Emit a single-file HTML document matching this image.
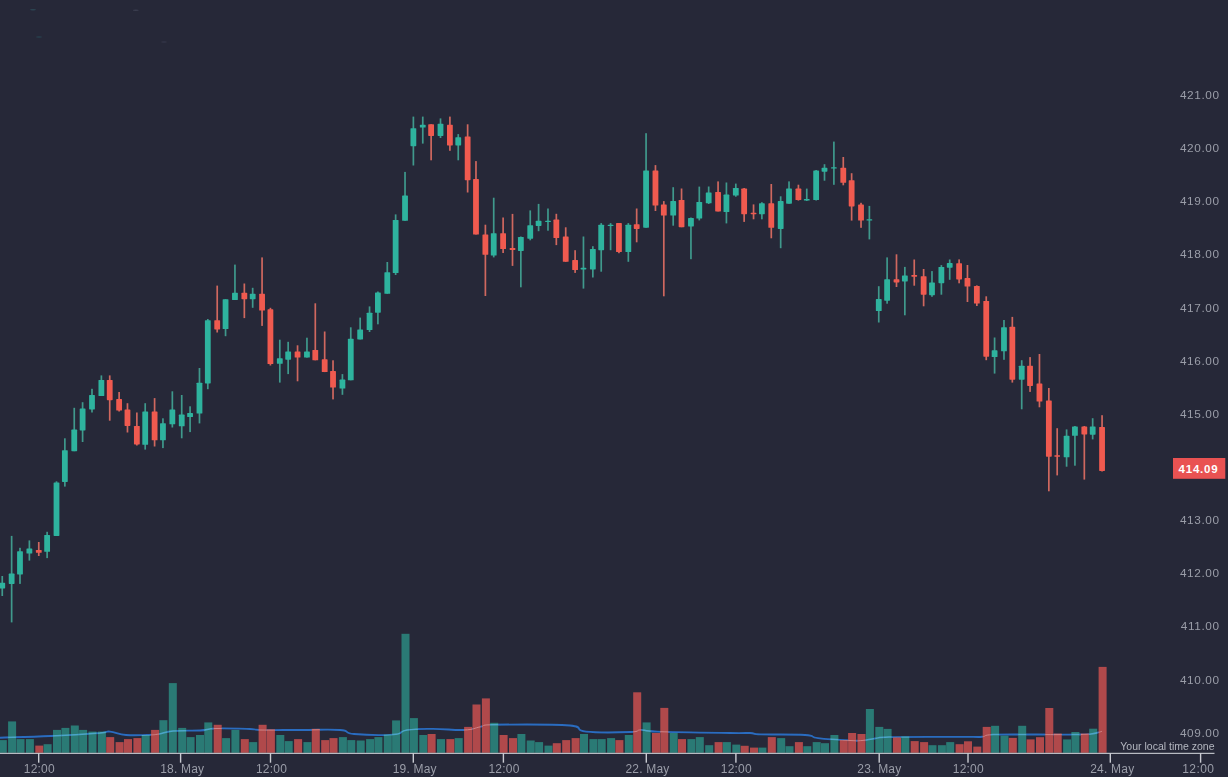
<!DOCTYPE html>
<html><head><meta charset="utf-8"><title>Chart</title>
<style>
html,body{margin:0;padding:0;background:#262838;}
body{width:1228px;height:777px;overflow:hidden;}
svg{display:block;}
text{font-family:"Liberation Sans",sans-serif;}
</style></head><body>
<svg width="1228" height="777" viewBox="0 0 1228 777">
<defs><filter id="b" x="-5%" y="-5%" width="110%" height="110%"><feGaussianBlur stdDeviation="0.45"/></filter></defs>
<rect width="1228" height="777" fill="#262838"/>
<g filter="url(#b)">
<path d="M0,737.7 C11.2,737.3 29.0,737.0 51,736 C73.0,735.0 87.0,734.0 100,733 C110.0,732.0 104.3,731.2 110,731.6 C115.7,732.0 117.9,734.3 126,735 C134.1,735.7 139.7,735.2 147,735 C154.3,734.8 153.3,734.9 159,734 C164.7,733.1 164.0,731.8 173,731 C182.0,730.2 190.5,731.0 200,730.5 C209.5,730.0 205.0,728.8 216,728.5 C227.0,728.2 240.3,728.7 250,729 C259.7,729.3 250.0,729.8 260,730 C271.2,730.2 283.4,730.0 301,730 C318.6,730.0 328.3,729.1 340,730 C351.7,730.9 342.3,733.0 354,734 C365.7,735.0 381.3,735.5 393,734.6 C404.7,733.7 398.2,731.3 407,730 C415.8,728.7 420.5,728.9 433,728.9 C445.5,728.9 453.7,730.4 464,730 C474.3,729.6 474.3,728.0 480,726.9 C485.7,725.8 480.0,725.1 490,724.8 C509.8,724.5 548.9,724.0 570,725.5 C586.0,727.0 572.6,730.2 586,731.6 C599.4,733.0 618.9,732.4 631,732 C641.0,731.6 635.3,730.0 641,729.9 C646.7,729.8 641.0,730.9 657,731.6 C676.6,732.3 709.5,732.7 730,733 C750.0,733.3 743.2,732.7 750,733 C756.8,733.3 750.0,734.0 761,734.4 C773.1,734.8 792.5,734.2 805,735 C817.5,735.8 808.1,736.9 818,738.1 C827.9,739.3 840.3,740.0 850,740.5 C859.7,741.0 856.5,740.9 862,740.5 C867.5,740.1 869.1,739.2 875,738.5 C880.9,737.8 875.0,737.5 889,737.1 C909.9,736.7 949.5,737.0 970,736.9 C982.0,736.8 976.9,737.3 982,736.8 C987.1,736.3 982.0,735.1 993,734.6 C1012.1,734.1 1047.4,734.8 1069,734.6 C1090.6,734.4 1083.7,734.6 1091,733.9 C1098.3,733.2 1099.6,731.9 1102,731.3" fill="none" stroke="#2a6cc0" stroke-width="1.9" stroke-linejoin="round"/>
<clipPath id="vbg">
<rect x="-1.2" y="740.1" width="8" height="12.7"/>
<rect x="8.1" y="721.4" width="8" height="31.4"/>
<rect x="16.5" y="739.1" width="8" height="13.7"/>
<rect x="25.9" y="739.1" width="8" height="13.7"/>
<rect x="43.6" y="744.2" width="8" height="8.6"/>
<rect x="53.0" y="729.9" width="8" height="22.9"/>
<rect x="61.4" y="727.9" width="8" height="24.9"/>
<rect x="70.8" y="725.5" width="8" height="27.3"/>
<rect x="79.1" y="729.9" width="8" height="22.9"/>
<rect x="88.5" y="731.6" width="8" height="21.2"/>
<rect x="97.9" y="731.6" width="8" height="21.2"/>
<rect x="141.7" y="735.0" width="8" height="17.8"/>
<rect x="159.4" y="720.2" width="8" height="32.6"/>
<rect x="168.8" y="683.1" width="8" height="69.7"/>
<rect x="178.2" y="727.9" width="8" height="24.9"/>
<rect x="186.6" y="737.1" width="8" height="15.7"/>
<rect x="196.0" y="735.0" width="8" height="17.8"/>
<rect x="204.3" y="722.4" width="8" height="30.4"/>
<rect x="222.1" y="738.1" width="8" height="14.7"/>
<rect x="231.4" y="729.9" width="8" height="22.9"/>
<rect x="249.2" y="742.1" width="8" height="10.7"/>
<rect x="276.3" y="735.0" width="8" height="17.8"/>
<rect x="284.7" y="741.1" width="8" height="11.7"/>
<rect x="303.4" y="742.1" width="8" height="10.7"/>
<rect x="338.9" y="737.1" width="8" height="15.7"/>
<rect x="347.3" y="740.1" width="8" height="12.7"/>
<rect x="356.7" y="740.5" width="8" height="12.3"/>
<rect x="366.1" y="739.1" width="8" height="13.7"/>
<rect x="374.4" y="737.1" width="8" height="15.7"/>
<rect x="383.8" y="734.6" width="8" height="18.2"/>
<rect x="392.1" y="720.4" width="8" height="32.4"/>
<rect x="401.5" y="633.8" width="8" height="119.0"/>
<rect x="409.9" y="718.1" width="8" height="34.7"/>
<rect x="419.3" y="735.0" width="8" height="17.8"/>
<rect x="437.0" y="739.1" width="8" height="13.7"/>
<rect x="454.7" y="738.1" width="8" height="14.7"/>
<rect x="490.2" y="722.8" width="8" height="30.0"/>
<rect x="517.4" y="734.0" width="8" height="18.8"/>
<rect x="526.7" y="740.5" width="8" height="12.3"/>
<rect x="535.1" y="742.1" width="8" height="10.7"/>
<rect x="544.5" y="745.6" width="8" height="7.2"/>
<rect x="580.0" y="734.0" width="8" height="18.8"/>
<rect x="589.4" y="739.1" width="8" height="13.7"/>
<rect x="597.7" y="739.1" width="8" height="13.7"/>
<rect x="607.1" y="738.1" width="8" height="14.7"/>
<rect x="624.8" y="735.0" width="8" height="17.8"/>
<rect x="642.6" y="722.4" width="8" height="30.4"/>
<rect x="669.7" y="733.0" width="8" height="19.8"/>
<rect x="687.4" y="739.1" width="8" height="13.7"/>
<rect x="695.8" y="737.1" width="8" height="15.7"/>
<rect x="705.2" y="745.2" width="8" height="7.6"/>
<rect x="722.9" y="742.1" width="8" height="10.7"/>
<rect x="732.3" y="744.6" width="8" height="8.2"/>
<rect x="758.4" y="747.6" width="8" height="5.2"/>
<rect x="777.2" y="738.1" width="8" height="14.7"/>
<rect x="785.5" y="746.2" width="8" height="6.6"/>
<rect x="803.3" y="746.2" width="8" height="6.6"/>
<rect x="812.7" y="742.1" width="8" height="10.7"/>
<rect x="821.0" y="743.2" width="8" height="9.6"/>
<rect x="830.4" y="735.0" width="8" height="17.8"/>
<rect x="865.9" y="709.0" width="8" height="43.8"/>
<rect x="875.3" y="726.9" width="8" height="25.9"/>
<rect x="883.6" y="728.9" width="8" height="23.9"/>
<rect x="901.3" y="736.5" width="8" height="16.3"/>
<rect x="928.5" y="745.2" width="8" height="7.6"/>
<rect x="937.9" y="745.2" width="8" height="7.6"/>
<rect x="946.2" y="742.1" width="8" height="10.7"/>
<rect x="991.1" y="725.8" width="8" height="27.0"/>
<rect x="1000.5" y="735.7" width="8" height="17.1"/>
<rect x="1018.2" y="725.8" width="8" height="27.0"/>
<rect x="1063.1" y="739.4" width="8" height="13.4"/>
<rect x="1071.4" y="732.0" width="8" height="20.8"/>
<rect x="1089.2" y="728.7" width="8" height="24.1"/>
</clipPath>
<clipPath id="vbr">
<rect x="35.3" y="745.6" width="8" height="7.2"/>
<rect x="106.2" y="737.1" width="8" height="15.7"/>
<rect x="115.6" y="742.1" width="8" height="10.7"/>
<rect x="124.0" y="739.1" width="8" height="13.7"/>
<rect x="133.4" y="738.1" width="8" height="14.7"/>
<rect x="151.1" y="729.9" width="8" height="22.9"/>
<rect x="213.7" y="724.8" width="8" height="28.0"/>
<rect x="240.8" y="739.1" width="8" height="13.7"/>
<rect x="258.6" y="724.8" width="8" height="28.0"/>
<rect x="266.9" y="729.3" width="8" height="23.5"/>
<rect x="294.1" y="739.1" width="8" height="13.7"/>
<rect x="311.8" y="728.9" width="8" height="23.9"/>
<rect x="321.2" y="740.1" width="8" height="12.7"/>
<rect x="329.5" y="738.1" width="8" height="14.7"/>
<rect x="427.6" y="734.0" width="8" height="18.8"/>
<rect x="446.4" y="739.1" width="8" height="13.7"/>
<rect x="464.1" y="726.9" width="8" height="25.9"/>
<rect x="472.5" y="704.5" width="8" height="48.3"/>
<rect x="481.9" y="698.4" width="8" height="54.4"/>
<rect x="499.6" y="735.0" width="8" height="17.8"/>
<rect x="509.0" y="738.1" width="8" height="14.7"/>
<rect x="552.8" y="743.2" width="8" height="9.6"/>
<rect x="562.2" y="740.1" width="8" height="12.7"/>
<rect x="571.6" y="738.1" width="8" height="14.7"/>
<rect x="615.4" y="740.1" width="8" height="12.7"/>
<rect x="633.2" y="692.3" width="8" height="60.5"/>
<rect x="652.0" y="733.0" width="8" height="19.8"/>
<rect x="660.3" y="707.9" width="8" height="44.9"/>
<rect x="678.0" y="739.1" width="8" height="13.7"/>
<rect x="714.6" y="742.1" width="8" height="10.7"/>
<rect x="740.7" y="745.8" width="8" height="7.0"/>
<rect x="750.0" y="747.6" width="8" height="5.2"/>
<rect x="767.8" y="737.1" width="8" height="15.7"/>
<rect x="794.9" y="742.1" width="8" height="10.7"/>
<rect x="839.8" y="740.1" width="8" height="12.7"/>
<rect x="848.1" y="733.0" width="8" height="19.8"/>
<rect x="857.5" y="734.0" width="8" height="18.8"/>
<rect x="893.0" y="737.5" width="8" height="15.3"/>
<rect x="910.7" y="741.1" width="8" height="11.7"/>
<rect x="920.1" y="742.1" width="8" height="10.7"/>
<rect x="955.6" y="744.2" width="8" height="8.6"/>
<rect x="964.0" y="741.3" width="8" height="11.5"/>
<rect x="973.3" y="746.6" width="8" height="6.2"/>
<rect x="982.7" y="726.9" width="8" height="25.9"/>
<rect x="1008.8" y="737.9" width="8" height="14.9"/>
<rect x="1026.6" y="739.4" width="8" height="13.4"/>
<rect x="1036.0" y="737.2" width="8" height="15.6"/>
<rect x="1045.3" y="708.0" width="8" height="44.8"/>
<rect x="1053.7" y="733.5" width="8" height="19.3"/>
<rect x="1080.8" y="733.5" width="8" height="19.3"/>
<rect x="1098.6" y="666.9" width="8" height="85.9"/>
</clipPath>
<g>
<rect x="-1.2" y="740.1" width="8" height="12.7" fill="#2a7a74"/>
<rect x="8.1" y="721.4" width="8" height="31.4" fill="#2a7a74"/>
<rect x="16.5" y="739.1" width="8" height="13.7" fill="#2a7a74"/>
<rect x="25.9" y="739.1" width="8" height="13.7" fill="#2a7a74"/>
<rect x="35.3" y="745.6" width="8" height="7.2" fill="#b04a4c"/>
<rect x="43.6" y="744.2" width="8" height="8.6" fill="#2a7a74"/>
<rect x="53.0" y="729.9" width="8" height="22.9" fill="#2a7a74"/>
<rect x="61.4" y="727.9" width="8" height="24.9" fill="#2a7a74"/>
<rect x="70.8" y="725.5" width="8" height="27.3" fill="#2a7a74"/>
<rect x="79.1" y="729.9" width="8" height="22.9" fill="#2a7a74"/>
<rect x="88.5" y="731.6" width="8" height="21.2" fill="#2a7a74"/>
<rect x="97.9" y="731.6" width="8" height="21.2" fill="#2a7a74"/>
<rect x="106.2" y="737.1" width="8" height="15.7" fill="#b04a4c"/>
<rect x="115.6" y="742.1" width="8" height="10.7" fill="#b04a4c"/>
<rect x="124.0" y="739.1" width="8" height="13.7" fill="#b04a4c"/>
<rect x="133.4" y="738.1" width="8" height="14.7" fill="#b04a4c"/>
<rect x="141.7" y="735.0" width="8" height="17.8" fill="#2a7a74"/>
<rect x="151.1" y="729.9" width="8" height="22.9" fill="#b04a4c"/>
<rect x="159.4" y="720.2" width="8" height="32.6" fill="#2a7a74"/>
<rect x="168.8" y="683.1" width="8" height="69.7" fill="#2a7a74"/>
<rect x="178.2" y="727.9" width="8" height="24.9" fill="#2a7a74"/>
<rect x="186.6" y="737.1" width="8" height="15.7" fill="#2a7a74"/>
<rect x="196.0" y="735.0" width="8" height="17.8" fill="#2a7a74"/>
<rect x="204.3" y="722.4" width="8" height="30.4" fill="#2a7a74"/>
<rect x="213.7" y="724.8" width="8" height="28.0" fill="#b04a4c"/>
<rect x="222.1" y="738.1" width="8" height="14.7" fill="#2a7a74"/>
<rect x="231.4" y="729.9" width="8" height="22.9" fill="#2a7a74"/>
<rect x="240.8" y="739.1" width="8" height="13.7" fill="#b04a4c"/>
<rect x="249.2" y="742.1" width="8" height="10.7" fill="#2a7a74"/>
<rect x="258.6" y="724.8" width="8" height="28.0" fill="#b04a4c"/>
<rect x="266.9" y="729.3" width="8" height="23.5" fill="#b04a4c"/>
<rect x="276.3" y="735.0" width="8" height="17.8" fill="#2a7a74"/>
<rect x="284.7" y="741.1" width="8" height="11.7" fill="#2a7a74"/>
<rect x="294.1" y="739.1" width="8" height="13.7" fill="#b04a4c"/>
<rect x="303.4" y="742.1" width="8" height="10.7" fill="#2a7a74"/>
<rect x="311.8" y="728.9" width="8" height="23.9" fill="#b04a4c"/>
<rect x="321.2" y="740.1" width="8" height="12.7" fill="#b04a4c"/>
<rect x="329.5" y="738.1" width="8" height="14.7" fill="#b04a4c"/>
<rect x="338.9" y="737.1" width="8" height="15.7" fill="#2a7a74"/>
<rect x="347.3" y="740.1" width="8" height="12.7" fill="#2a7a74"/>
<rect x="356.7" y="740.5" width="8" height="12.3" fill="#2a7a74"/>
<rect x="366.1" y="739.1" width="8" height="13.7" fill="#2a7a74"/>
<rect x="374.4" y="737.1" width="8" height="15.7" fill="#2a7a74"/>
<rect x="383.8" y="734.6" width="8" height="18.2" fill="#2a7a74"/>
<rect x="392.1" y="720.4" width="8" height="32.4" fill="#2a7a74"/>
<rect x="401.5" y="633.8" width="8" height="119.0" fill="#2a7a74"/>
<rect x="409.9" y="718.1" width="8" height="34.7" fill="#2a7a74"/>
<rect x="419.3" y="735.0" width="8" height="17.8" fill="#2a7a74"/>
<rect x="427.6" y="734.0" width="8" height="18.8" fill="#b04a4c"/>
<rect x="437.0" y="739.1" width="8" height="13.7" fill="#2a7a74"/>
<rect x="446.4" y="739.1" width="8" height="13.7" fill="#b04a4c"/>
<rect x="454.7" y="738.1" width="8" height="14.7" fill="#2a7a74"/>
<rect x="464.1" y="726.9" width="8" height="25.9" fill="#b04a4c"/>
<rect x="472.5" y="704.5" width="8" height="48.3" fill="#b04a4c"/>
<rect x="481.9" y="698.4" width="8" height="54.4" fill="#b04a4c"/>
<rect x="490.2" y="722.8" width="8" height="30.0" fill="#2a7a74"/>
<rect x="499.6" y="735.0" width="8" height="17.8" fill="#b04a4c"/>
<rect x="509.0" y="738.1" width="8" height="14.7" fill="#b04a4c"/>
<rect x="517.4" y="734.0" width="8" height="18.8" fill="#2a7a74"/>
<rect x="526.7" y="740.5" width="8" height="12.3" fill="#2a7a74"/>
<rect x="535.1" y="742.1" width="8" height="10.7" fill="#2a7a74"/>
<rect x="544.5" y="745.6" width="8" height="7.2" fill="#2a7a74"/>
<rect x="552.8" y="743.2" width="8" height="9.6" fill="#b04a4c"/>
<rect x="562.2" y="740.1" width="8" height="12.7" fill="#b04a4c"/>
<rect x="571.6" y="738.1" width="8" height="14.7" fill="#b04a4c"/>
<rect x="580.0" y="734.0" width="8" height="18.8" fill="#2a7a74"/>
<rect x="589.4" y="739.1" width="8" height="13.7" fill="#2a7a74"/>
<rect x="597.7" y="739.1" width="8" height="13.7" fill="#2a7a74"/>
<rect x="607.1" y="738.1" width="8" height="14.7" fill="#2a7a74"/>
<rect x="615.4" y="740.1" width="8" height="12.7" fill="#b04a4c"/>
<rect x="624.8" y="735.0" width="8" height="17.8" fill="#2a7a74"/>
<rect x="633.2" y="692.3" width="8" height="60.5" fill="#b04a4c"/>
<rect x="642.6" y="722.4" width="8" height="30.4" fill="#2a7a74"/>
<rect x="652.0" y="733.0" width="8" height="19.8" fill="#b04a4c"/>
<rect x="660.3" y="707.9" width="8" height="44.9" fill="#b04a4c"/>
<rect x="669.7" y="733.0" width="8" height="19.8" fill="#2a7a74"/>
<rect x="678.0" y="739.1" width="8" height="13.7" fill="#b04a4c"/>
<rect x="687.4" y="739.1" width="8" height="13.7" fill="#2a7a74"/>
<rect x="695.8" y="737.1" width="8" height="15.7" fill="#2a7a74"/>
<rect x="705.2" y="745.2" width="8" height="7.6" fill="#2a7a74"/>
<rect x="714.6" y="742.1" width="8" height="10.7" fill="#b04a4c"/>
<rect x="722.9" y="742.1" width="8" height="10.7" fill="#2a7a74"/>
<rect x="732.3" y="744.6" width="8" height="8.2" fill="#2a7a74"/>
<rect x="740.7" y="745.8" width="8" height="7.0" fill="#b04a4c"/>
<rect x="750.0" y="747.6" width="8" height="5.2" fill="#b04a4c"/>
<rect x="758.4" y="747.6" width="8" height="5.2" fill="#2a7a74"/>
<rect x="767.8" y="737.1" width="8" height="15.7" fill="#b04a4c"/>
<rect x="777.2" y="738.1" width="8" height="14.7" fill="#2a7a74"/>
<rect x="785.5" y="746.2" width="8" height="6.6" fill="#2a7a74"/>
<rect x="794.9" y="742.1" width="8" height="10.7" fill="#b04a4c"/>
<rect x="803.3" y="746.2" width="8" height="6.6" fill="#2a7a74"/>
<rect x="812.7" y="742.1" width="8" height="10.7" fill="#2a7a74"/>
<rect x="821.0" y="743.2" width="8" height="9.6" fill="#2a7a74"/>
<rect x="830.4" y="735.0" width="8" height="17.8" fill="#2a7a74"/>
<rect x="839.8" y="740.1" width="8" height="12.7" fill="#b04a4c"/>
<rect x="848.1" y="733.0" width="8" height="19.8" fill="#b04a4c"/>
<rect x="857.5" y="734.0" width="8" height="18.8" fill="#b04a4c"/>
<rect x="865.9" y="709.0" width="8" height="43.8" fill="#2a7a74"/>
<rect x="875.3" y="726.9" width="8" height="25.9" fill="#2a7a74"/>
<rect x="883.6" y="728.9" width="8" height="23.9" fill="#2a7a74"/>
<rect x="893.0" y="737.5" width="8" height="15.3" fill="#b04a4c"/>
<rect x="901.3" y="736.5" width="8" height="16.3" fill="#2a7a74"/>
<rect x="910.7" y="741.1" width="8" height="11.7" fill="#b04a4c"/>
<rect x="920.1" y="742.1" width="8" height="10.7" fill="#b04a4c"/>
<rect x="928.5" y="745.2" width="8" height="7.6" fill="#2a7a74"/>
<rect x="937.9" y="745.2" width="8" height="7.6" fill="#2a7a74"/>
<rect x="946.2" y="742.1" width="8" height="10.7" fill="#2a7a74"/>
<rect x="955.6" y="744.2" width="8" height="8.6" fill="#b04a4c"/>
<rect x="964.0" y="741.3" width="8" height="11.5" fill="#b04a4c"/>
<rect x="973.3" y="746.6" width="8" height="6.2" fill="#b04a4c"/>
<rect x="982.7" y="726.9" width="8" height="25.9" fill="#b04a4c"/>
<rect x="991.1" y="725.8" width="8" height="27.0" fill="#2a7a74"/>
<rect x="1000.5" y="735.7" width="8" height="17.1" fill="#2a7a74"/>
<rect x="1008.8" y="737.9" width="8" height="14.9" fill="#b04a4c"/>
<rect x="1018.2" y="725.8" width="8" height="27.0" fill="#2a7a74"/>
<rect x="1026.6" y="739.4" width="8" height="13.4" fill="#b04a4c"/>
<rect x="1036.0" y="737.2" width="8" height="15.6" fill="#b04a4c"/>
<rect x="1045.3" y="708.0" width="8" height="44.8" fill="#b04a4c"/>
<rect x="1053.7" y="733.5" width="8" height="19.3" fill="#b04a4c"/>
<rect x="1063.1" y="739.4" width="8" height="13.4" fill="#2a7a74"/>
<rect x="1071.4" y="732.0" width="8" height="20.8" fill="#2a7a74"/>
<rect x="1080.8" y="733.5" width="8" height="19.3" fill="#b04a4c"/>
<rect x="1089.2" y="728.7" width="8" height="24.1" fill="#2a7a74"/>
<rect x="1098.6" y="666.9" width="8" height="85.9" fill="#b04a4c"/>
</g>
<path d="M0,737.7 C11.2,737.3 29.0,737.0 51,736 C73.0,735.0 87.0,734.0 100,733 C110.0,732.0 104.3,731.2 110,731.6 C115.7,732.0 117.9,734.3 126,735 C134.1,735.7 139.7,735.2 147,735 C154.3,734.8 153.3,734.9 159,734 C164.7,733.1 164.0,731.8 173,731 C182.0,730.2 190.5,731.0 200,730.5 C209.5,730.0 205.0,728.8 216,728.5 C227.0,728.2 240.3,728.7 250,729 C259.7,729.3 250.0,729.8 260,730 C271.2,730.2 283.4,730.0 301,730 C318.6,730.0 328.3,729.1 340,730 C351.7,730.9 342.3,733.0 354,734 C365.7,735.0 381.3,735.5 393,734.6 C404.7,733.7 398.2,731.3 407,730 C415.8,728.7 420.5,728.9 433,728.9 C445.5,728.9 453.7,730.4 464,730 C474.3,729.6 474.3,728.0 480,726.9 C485.7,725.8 480.0,725.1 490,724.8 C509.8,724.5 548.9,724.0 570,725.5 C586.0,727.0 572.6,730.2 586,731.6 C599.4,733.0 618.9,732.4 631,732 C641.0,731.6 635.3,730.0 641,729.9 C646.7,729.8 641.0,730.9 657,731.6 C676.6,732.3 709.5,732.7 730,733 C750.0,733.3 743.2,732.7 750,733 C756.8,733.3 750.0,734.0 761,734.4 C773.1,734.8 792.5,734.2 805,735 C817.5,735.8 808.1,736.9 818,738.1 C827.9,739.3 840.3,740.0 850,740.5 C859.7,741.0 856.5,740.9 862,740.5 C867.5,740.1 869.1,739.2 875,738.5 C880.9,737.8 875.0,737.5 889,737.1 C909.9,736.7 949.5,737.0 970,736.9 C982.0,736.8 976.9,737.3 982,736.8 C987.1,736.3 982.0,735.1 993,734.6 C1012.1,734.1 1047.4,734.8 1069,734.6 C1090.6,734.4 1083.7,734.6 1091,733.9 C1098.3,733.2 1099.6,731.9 1102,731.3" fill="none" stroke="#58b4e6" stroke-width="1.5" stroke-linejoin="round" opacity="0.75" clip-path="url(#vbg)"/>
<path d="M0,737.7 C11.2,737.3 29.0,737.0 51,736 C73.0,735.0 87.0,734.0 100,733 C110.0,732.0 104.3,731.2 110,731.6 C115.7,732.0 117.9,734.3 126,735 C134.1,735.7 139.7,735.2 147,735 C154.3,734.8 153.3,734.9 159,734 C164.7,733.1 164.0,731.8 173,731 C182.0,730.2 190.5,731.0 200,730.5 C209.5,730.0 205.0,728.8 216,728.5 C227.0,728.2 240.3,728.7 250,729 C259.7,729.3 250.0,729.8 260,730 C271.2,730.2 283.4,730.0 301,730 C318.6,730.0 328.3,729.1 340,730 C351.7,730.9 342.3,733.0 354,734 C365.7,735.0 381.3,735.5 393,734.6 C404.7,733.7 398.2,731.3 407,730 C415.8,728.7 420.5,728.9 433,728.9 C445.5,728.9 453.7,730.4 464,730 C474.3,729.6 474.3,728.0 480,726.9 C485.7,725.8 480.0,725.1 490,724.8 C509.8,724.5 548.9,724.0 570,725.5 C586.0,727.0 572.6,730.2 586,731.6 C599.4,733.0 618.9,732.4 631,732 C641.0,731.6 635.3,730.0 641,729.9 C646.7,729.8 641.0,730.9 657,731.6 C676.6,732.3 709.5,732.7 730,733 C750.0,733.3 743.2,732.7 750,733 C756.8,733.3 750.0,734.0 761,734.4 C773.1,734.8 792.5,734.2 805,735 C817.5,735.8 808.1,736.9 818,738.1 C827.9,739.3 840.3,740.0 850,740.5 C859.7,741.0 856.5,740.9 862,740.5 C867.5,740.1 869.1,739.2 875,738.5 C880.9,737.8 875.0,737.5 889,737.1 C909.9,736.7 949.5,737.0 970,736.9 C982.0,736.8 976.9,737.3 982,736.8 C987.1,736.3 982.0,735.1 993,734.6 C1012.1,734.1 1047.4,734.8 1069,734.6 C1090.6,734.4 1083.7,734.6 1091,733.9 C1098.3,733.2 1099.6,731.9 1102,731.3" fill="none" stroke="#ffd9d9" stroke-width="1.0" stroke-linejoin="round" opacity="0.4" clip-path="url(#vbr)"/>
<g>
<rect x="1.40" y="576.0" width="1.7" height="20.0" fill="#3f998c"/>
<rect x="-0.65" y="582.8" width="5.8" height="5.6" rx="0.6" fill="#2eb39e"/>
<rect x="10.79" y="535.9" width="1.7" height="86.5" fill="#3f998c"/>
<rect x="8.74" y="573.6" width="5.8" height="10.3" rx="0.6" fill="#2eb39e"/>
<rect x="19.14" y="547.8" width="1.7" height="36.1" fill="#3f998c"/>
<rect x="17.09" y="551.3" width="5.8" height="23.1" rx="0.6" fill="#2eb39e"/>
<rect x="28.53" y="540.4" width="1.7" height="20.2" fill="#3f998c"/>
<rect x="26.48" y="548.5" width="5.8" height="5.1" rx="0.6" fill="#2eb39e"/>
<rect x="37.92" y="542.0" width="1.7" height="14.0" fill="#cf675f"/>
<rect x="35.87" y="550.0" width="5.8" height="2.8" rx="0.6" fill="#f05a50"/>
<rect x="46.27" y="531.8" width="1.7" height="26.3" fill="#3f998c"/>
<rect x="44.22" y="534.9" width="5.8" height="16.9" rx="0.6" fill="#2eb39e"/>
<rect x="55.66" y="481.3" width="1.7" height="54.6" fill="#3f998c"/>
<rect x="53.61" y="482.4" width="5.8" height="53.5" rx="0.6" fill="#2eb39e"/>
<rect x="64.01" y="438.3" width="1.7" height="48.3" fill="#3f998c"/>
<rect x="61.96" y="450.2" width="5.8" height="31.7" rx="0.6" fill="#2eb39e"/>
<rect x="73.40" y="407.8" width="1.7" height="43.4" fill="#3f998c"/>
<rect x="71.35" y="429.6" width="5.8" height="21.6" rx="0.6" fill="#2eb39e"/>
<rect x="81.75" y="402.2" width="1.7" height="39.8" fill="#3f998c"/>
<rect x="79.70" y="408.4" width="5.8" height="22.0" rx="0.6" fill="#2eb39e"/>
<rect x="91.14" y="388.8" width="1.7" height="23.7" fill="#3f998c"/>
<rect x="89.09" y="395.0" width="5.8" height="14.4" rx="0.6" fill="#2eb39e"/>
<rect x="100.53" y="375.4" width="1.7" height="20.6" fill="#3f998c"/>
<rect x="98.48" y="380.0" width="5.8" height="16.0" rx="0.6" fill="#2eb39e"/>
<rect x="108.88" y="375.4" width="1.7" height="45.3" fill="#cf675f"/>
<rect x="106.83" y="380.0" width="5.8" height="20.2" rx="0.6" fill="#f05a50"/>
<rect x="118.27" y="392.0" width="1.7" height="19.5" fill="#cf675f"/>
<rect x="116.22" y="399.1" width="5.8" height="11.4" rx="0.6" fill="#f05a50"/>
<rect x="126.62" y="403.2" width="1.7" height="29.3" fill="#cf675f"/>
<rect x="124.57" y="409.4" width="5.8" height="16.5" rx="0.6" fill="#f05a50"/>
<rect x="136.01" y="412.5" width="1.7" height="33.0" fill="#cf675f"/>
<rect x="133.96" y="425.9" width="5.8" height="18.5" rx="0.6" fill="#f05a50"/>
<rect x="144.36" y="403.2" width="1.7" height="46.4" fill="#3f998c"/>
<rect x="142.31" y="411.5" width="5.8" height="33.3" rx="0.6" fill="#2eb39e"/>
<rect x="153.75" y="398.1" width="1.7" height="48.4" fill="#cf675f"/>
<rect x="151.70" y="411.5" width="5.8" height="28.8" rx="0.6" fill="#f05a50"/>
<rect x="162.09" y="418.3" width="1.7" height="29.8" fill="#3f998c"/>
<rect x="160.04" y="423.2" width="5.8" height="17.1" rx="0.6" fill="#2eb39e"/>
<rect x="171.49" y="391.3" width="1.7" height="36.2" fill="#3f998c"/>
<rect x="169.44" y="409.4" width="5.8" height="14.9" rx="0.6" fill="#2eb39e"/>
<rect x="180.88" y="395.0" width="1.7" height="43.3" fill="#3f998c"/>
<rect x="178.83" y="414.6" width="5.8" height="11.7" rx="0.6" fill="#2eb39e"/>
<rect x="189.23" y="406.3" width="1.7" height="25.8" fill="#3f998c"/>
<rect x="187.18" y="412.9" width="5.8" height="4.1" rx="0.6" fill="#2eb39e"/>
<rect x="198.62" y="368.0" width="1.7" height="55.4" fill="#3f998c"/>
<rect x="196.57" y="382.7" width="5.8" height="30.8" rx="0.6" fill="#2eb39e"/>
<rect x="206.96" y="319.0" width="1.7" height="70.2" fill="#3f998c"/>
<rect x="204.91" y="320.2" width="5.8" height="63.2" rx="0.6" fill="#2eb39e"/>
<rect x="216.36" y="285.6" width="1.7" height="46.9" fill="#cf675f"/>
<rect x="214.31" y="320.2" width="5.8" height="9.2" rx="0.6" fill="#f05a50"/>
<rect x="224.70" y="299.2" width="1.7" height="37.0" fill="#3f998c"/>
<rect x="222.65" y="299.2" width="5.8" height="29.8" rx="0.6" fill="#2eb39e"/>
<rect x="234.09" y="264.6" width="1.7" height="35.4" fill="#3f998c"/>
<rect x="232.04" y="292.8" width="5.8" height="7.2" rx="0.6" fill="#2eb39e"/>
<rect x="243.49" y="283.5" width="1.7" height="34.6" fill="#cf675f"/>
<rect x="241.44" y="292.8" width="5.8" height="6.4" rx="0.6" fill="#f05a50"/>
<rect x="251.83" y="287.8" width="1.7" height="20.0" fill="#3f998c"/>
<rect x="249.78" y="293.8" width="5.8" height="5.4" rx="0.6" fill="#2eb39e"/>
<rect x="261.22" y="257.4" width="1.7" height="68.5" fill="#cf675f"/>
<rect x="259.17" y="293.8" width="5.8" height="16.7" rx="0.6" fill="#f05a50"/>
<rect x="269.57" y="307.8" width="1.7" height="57.7" fill="#cf675f"/>
<rect x="267.52" y="309.3" width="5.8" height="54.7" rx="0.6" fill="#f05a50"/>
<rect x="278.96" y="339.7" width="1.7" height="42.9" fill="#3f998c"/>
<rect x="276.91" y="358.3" width="5.8" height="5.5" rx="0.6" fill="#2eb39e"/>
<rect x="287.31" y="341.8" width="1.7" height="32.3" fill="#3f998c"/>
<rect x="285.26" y="351.5" width="5.8" height="8.2" rx="0.6" fill="#2eb39e"/>
<rect x="296.70" y="345.3" width="1.7" height="36.0" fill="#cf675f"/>
<rect x="294.65" y="351.5" width="5.8" height="6.1" rx="0.6" fill="#f05a50"/>
<rect x="306.09" y="337.7" width="1.7" height="19.9" fill="#3f998c"/>
<rect x="304.04" y="351.5" width="5.8" height="6.1" rx="0.6" fill="#2eb39e"/>
<rect x="314.44" y="303.3" width="1.7" height="57.0" fill="#cf675f"/>
<rect x="312.39" y="350.0" width="5.8" height="10.3" rx="0.6" fill="#f05a50"/>
<rect x="323.83" y="331.5" width="1.7" height="40.6" fill="#cf675f"/>
<rect x="321.78" y="359.3" width="5.8" height="12.8" rx="0.6" fill="#f05a50"/>
<rect x="332.18" y="360.3" width="1.7" height="39.1" fill="#cf675f"/>
<rect x="330.13" y="371.0" width="5.8" height="16.5" rx="0.6" fill="#f05a50"/>
<rect x="341.57" y="374.1" width="1.7" height="20.7" fill="#3f998c"/>
<rect x="339.52" y="379.6" width="5.8" height="9.0" rx="0.6" fill="#2eb39e"/>
<rect x="349.92" y="327.3" width="1.7" height="53.0" fill="#3f998c"/>
<rect x="347.87" y="338.8" width="5.8" height="41.5" rx="0.6" fill="#2eb39e"/>
<rect x="359.31" y="317.6" width="1.7" height="21.8" fill="#3f998c"/>
<rect x="357.26" y="329.5" width="5.8" height="9.9" rx="0.6" fill="#2eb39e"/>
<rect x="368.70" y="306.4" width="1.7" height="25.6" fill="#3f998c"/>
<rect x="366.65" y="312.7" width="5.8" height="17.4" rx="0.6" fill="#2eb39e"/>
<rect x="377.05" y="291.5" width="1.7" height="32.8" fill="#3f998c"/>
<rect x="375.00" y="292.5" width="5.8" height="20.2" rx="0.6" fill="#2eb39e"/>
<rect x="386.44" y="262.0" width="1.7" height="31.8" fill="#3f998c"/>
<rect x="384.39" y="272.2" width="5.8" height="21.6" rx="0.6" fill="#2eb39e"/>
<rect x="394.79" y="214.4" width="1.7" height="60.6" fill="#3f998c"/>
<rect x="392.74" y="220.0" width="5.8" height="53.0" rx="0.6" fill="#2eb39e"/>
<rect x="404.18" y="171.9" width="1.7" height="48.9" fill="#3f998c"/>
<rect x="402.13" y="195.6" width="5.8" height="25.2" rx="0.6" fill="#2eb39e"/>
<rect x="412.53" y="116.6" width="1.7" height="48.9" fill="#3f998c"/>
<rect x="410.48" y="128.2" width="5.8" height="18.0" rx="0.6" fill="#2eb39e"/>
<rect x="421.92" y="116.6" width="1.7" height="27.0" fill="#3f998c"/>
<rect x="419.87" y="124.8" width="5.8" height="2.8" rx="0.6" fill="#2eb39e"/>
<rect x="430.27" y="124.3" width="1.7" height="36.0" fill="#cf675f"/>
<rect x="428.22" y="124.3" width="5.8" height="11.6" rx="0.6" fill="#f05a50"/>
<rect x="439.66" y="118.4" width="1.7" height="19.6" fill="#3f998c"/>
<rect x="437.61" y="123.8" width="5.8" height="12.1" rx="0.6" fill="#2eb39e"/>
<rect x="449.05" y="116.6" width="1.7" height="34.2" fill="#cf675f"/>
<rect x="447.00" y="124.8" width="5.8" height="20.6" rx="0.6" fill="#f05a50"/>
<rect x="457.40" y="134.1" width="1.7" height="26.2" fill="#3f998c"/>
<rect x="455.35" y="137.2" width="5.8" height="8.2" rx="0.6" fill="#2eb39e"/>
<rect x="466.79" y="124.3" width="1.7" height="68.2" fill="#cf675f"/>
<rect x="464.74" y="136.4" width="5.8" height="43.8" rx="0.6" fill="#f05a50"/>
<rect x="475.13" y="161.1" width="1.7" height="73.4" fill="#cf675f"/>
<rect x="473.08" y="179.1" width="5.8" height="55.4" rx="0.6" fill="#f05a50"/>
<rect x="484.53" y="224.7" width="1.7" height="71.3" fill="#cf675f"/>
<rect x="482.48" y="234.5" width="5.8" height="20.3" rx="0.6" fill="#f05a50"/>
<rect x="492.87" y="197.7" width="1.7" height="59.7" fill="#3f998c"/>
<rect x="490.82" y="233.2" width="5.8" height="22.4" rx="0.6" fill="#2eb39e"/>
<rect x="502.26" y="217.5" width="1.7" height="35.5" fill="#cf675f"/>
<rect x="500.21" y="233.2" width="5.8" height="15.9" rx="0.6" fill="#f05a50"/>
<rect x="511.66" y="213.9" width="1.7" height="52.0" fill="#cf675f"/>
<rect x="509.61" y="247.9" width="5.8" height="2.0" rx="0.6" fill="#f05a50"/>
<rect x="520.00" y="236.5" width="1.7" height="50.8" fill="#3f998c"/>
<rect x="517.95" y="237.0" width="5.8" height="13.9" rx="0.6" fill="#2eb39e"/>
<rect x="529.39" y="210.4" width="1.7" height="29.9" fill="#3f998c"/>
<rect x="527.34" y="225.3" width="5.8" height="13.4" rx="0.6" fill="#2eb39e"/>
<rect x="537.74" y="203.9" width="1.7" height="27.3" fill="#3f998c"/>
<rect x="535.69" y="220.8" width="5.8" height="5.1" rx="0.6" fill="#2eb39e"/>
<rect x="547.13" y="208.5" width="1.7" height="22.2" fill="#3f998c"/>
<rect x="545.08" y="220.8" width="5.8" height="1.2" rx="0.6" fill="#2eb39e"/>
<rect x="555.48" y="213.8" width="1.7" height="31.3" fill="#cf675f"/>
<rect x="553.43" y="219.6" width="5.8" height="18.5" rx="0.6" fill="#f05a50"/>
<rect x="564.87" y="227.3" width="1.7" height="34.5" fill="#cf675f"/>
<rect x="562.82" y="236.5" width="5.8" height="25.3" rx="0.6" fill="#f05a50"/>
<rect x="574.26" y="250.2" width="1.7" height="22.7" fill="#cf675f"/>
<rect x="572.21" y="260.1" width="5.8" height="10.0" rx="0.6" fill="#f05a50"/>
<rect x="582.61" y="236.5" width="1.7" height="52.1" fill="#3f998c"/>
<rect x="580.56" y="267.8" width="5.8" height="1.6" rx="0.6" fill="#2eb39e"/>
<rect x="592.00" y="246.2" width="1.7" height="31.3" fill="#3f998c"/>
<rect x="589.95" y="249.0" width="5.8" height="20.4" rx="0.6" fill="#2eb39e"/>
<rect x="600.35" y="223.1" width="1.7" height="48.6" fill="#3f998c"/>
<rect x="598.30" y="224.7" width="5.8" height="25.5" rx="0.6" fill="#2eb39e"/>
<rect x="609.74" y="223.1" width="1.7" height="27.1" fill="#3f998c"/>
<rect x="607.69" y="224.7" width="5.8" height="1.4" rx="0.6" fill="#2eb39e"/>
<rect x="618.09" y="223.1" width="1.7" height="30.1" fill="#cf675f"/>
<rect x="616.04" y="223.1" width="5.8" height="28.9" rx="0.6" fill="#f05a50"/>
<rect x="627.48" y="223.1" width="1.7" height="38.7" fill="#3f998c"/>
<rect x="625.43" y="224.7" width="5.8" height="27.3" rx="0.6" fill="#2eb39e"/>
<rect x="635.83" y="208.5" width="1.7" height="33.8" fill="#cf675f"/>
<rect x="633.78" y="224.2" width="5.8" height="4.7" rx="0.6" fill="#f05a50"/>
<rect x="645.22" y="133.2" width="1.7" height="94.5" fill="#3f998c"/>
<rect x="643.17" y="170.5" width="5.8" height="57.2" rx="0.6" fill="#2eb39e"/>
<rect x="654.61" y="165.1" width="1.7" height="45.9" fill="#cf675f"/>
<rect x="652.56" y="170.5" width="5.8" height="35.1" rx="0.6" fill="#f05a50"/>
<rect x="662.96" y="201.1" width="1.7" height="95.2" fill="#cf675f"/>
<rect x="660.91" y="204.4" width="5.8" height="11.2" rx="0.6" fill="#f05a50"/>
<rect x="672.35" y="187.2" width="1.7" height="38.5" fill="#3f998c"/>
<rect x="670.30" y="201.1" width="5.8" height="14.5" rx="0.6" fill="#2eb39e"/>
<rect x="680.70" y="188.5" width="1.7" height="38.7" fill="#cf675f"/>
<rect x="678.65" y="200.0" width="5.8" height="27.2" rx="0.6" fill="#f05a50"/>
<rect x="690.09" y="217.5" width="1.7" height="41.7" fill="#3f998c"/>
<rect x="688.04" y="218.0" width="5.8" height="8.4" rx="0.6" fill="#2eb39e"/>
<rect x="698.44" y="186.6" width="1.7" height="33.8" fill="#3f998c"/>
<rect x="696.39" y="202.0" width="5.8" height="16.5" rx="0.6" fill="#2eb39e"/>
<rect x="707.83" y="186.5" width="1.7" height="17.5" fill="#3f998c"/>
<rect x="705.78" y="192.4" width="5.8" height="10.9" rx="0.6" fill="#2eb39e"/>
<rect x="717.22" y="181.4" width="1.7" height="30.0" fill="#cf675f"/>
<rect x="715.17" y="191.9" width="5.8" height="19.5" rx="0.6" fill="#f05a50"/>
<rect x="725.57" y="182.5" width="1.7" height="40.9" fill="#3f998c"/>
<rect x="723.52" y="194.6" width="5.8" height="17.5" rx="0.6" fill="#2eb39e"/>
<rect x="734.96" y="183.6" width="1.7" height="13.1" fill="#3f998c"/>
<rect x="732.91" y="188.0" width="5.8" height="7.6" rx="0.6" fill="#2eb39e"/>
<rect x="743.30" y="188.0" width="1.7" height="33.9" fill="#cf675f"/>
<rect x="741.25" y="188.6" width="5.8" height="25.6" rx="0.6" fill="#f05a50"/>
<rect x="752.70" y="204.4" width="1.7" height="14.9" fill="#cf675f"/>
<rect x="750.65" y="212.7" width="5.8" height="1.5" rx="0.6" fill="#f05a50"/>
<rect x="761.04" y="202.2" width="1.7" height="17.1" fill="#3f998c"/>
<rect x="758.99" y="203.3" width="5.8" height="10.9" rx="0.6" fill="#2eb39e"/>
<rect x="770.43" y="184.0" width="1.7" height="54.3" fill="#cf675f"/>
<rect x="768.38" y="203.3" width="5.8" height="24.5" rx="0.6" fill="#f05a50"/>
<rect x="779.83" y="196.3" width="1.7" height="51.9" fill="#3f998c"/>
<rect x="777.78" y="201.1" width="5.8" height="27.8" rx="0.6" fill="#2eb39e"/>
<rect x="788.17" y="181.4" width="1.7" height="22.3" fill="#3f998c"/>
<rect x="786.12" y="188.6" width="5.8" height="15.1" rx="0.6" fill="#2eb39e"/>
<rect x="797.56" y="184.7" width="1.7" height="15.9" fill="#cf675f"/>
<rect x="795.51" y="188.6" width="5.8" height="11.4" rx="0.6" fill="#f05a50"/>
<rect x="805.91" y="188.6" width="1.7" height="12.4" fill="#3f998c"/>
<rect x="803.86" y="199.0" width="5.8" height="1.6" rx="0.6" fill="#2eb39e"/>
<rect x="815.30" y="170.0" width="1.7" height="30.5" fill="#3f998c"/>
<rect x="813.25" y="170.4" width="5.8" height="29.6" rx="0.6" fill="#2eb39e"/>
<rect x="823.65" y="164.2" width="1.7" height="16.5" fill="#3f998c"/>
<rect x="821.60" y="167.8" width="5.8" height="3.9" rx="0.6" fill="#2eb39e"/>
<rect x="833.04" y="141.6" width="1.7" height="43.2" fill="#3f998c"/>
<rect x="830.99" y="167.3" width="5.8" height="1.3" rx="0.6" fill="#2eb39e"/>
<rect x="842.43" y="157.0" width="1.7" height="28.3" fill="#cf675f"/>
<rect x="840.38" y="167.8" width="5.8" height="15.0" rx="0.6" fill="#f05a50"/>
<rect x="850.78" y="173.2" width="1.7" height="47.4" fill="#cf675f"/>
<rect x="848.73" y="180.2" width="5.8" height="26.2" rx="0.6" fill="#f05a50"/>
<rect x="860.17" y="202.8" width="1.7" height="25.0" fill="#cf675f"/>
<rect x="858.12" y="204.6" width="5.8" height="16.0" rx="0.6" fill="#f05a50"/>
<rect x="868.52" y="205.9" width="1.7" height="33.5" fill="#3f998c"/>
<rect x="866.47" y="219.3" width="5.8" height="1.3" rx="0.6" fill="#2eb39e"/>
<rect x="877.91" y="286.2" width="1.7" height="36.3" fill="#3f998c"/>
<rect x="875.86" y="299.1" width="5.8" height="11.9" rx="0.6" fill="#2eb39e"/>
<rect x="886.26" y="257.4" width="1.7" height="46.3" fill="#3f998c"/>
<rect x="884.21" y="279.3" width="5.8" height="21.4" rx="0.6" fill="#2eb39e"/>
<rect x="895.65" y="254.3" width="1.7" height="32.7" fill="#cf675f"/>
<rect x="893.60" y="279.3" width="5.8" height="3.1" rx="0.6" fill="#f05a50"/>
<rect x="904.00" y="266.9" width="1.7" height="48.4" fill="#3f998c"/>
<rect x="901.95" y="275.4" width="5.8" height="6.0" rx="0.6" fill="#2eb39e"/>
<rect x="913.39" y="259.5" width="1.7" height="26.2" fill="#cf675f"/>
<rect x="911.34" y="274.9" width="5.8" height="1.8" rx="0.6" fill="#f05a50"/>
<rect x="922.78" y="269.0" width="1.7" height="37.3" fill="#cf675f"/>
<rect x="920.73" y="276.2" width="5.8" height="18.5" rx="0.6" fill="#f05a50"/>
<rect x="931.13" y="271.1" width="1.7" height="25.7" fill="#3f998c"/>
<rect x="929.08" y="282.6" width="5.8" height="12.6" rx="0.6" fill="#2eb39e"/>
<rect x="940.52" y="265.1" width="1.7" height="29.6" fill="#3f998c"/>
<rect x="938.47" y="266.9" width="5.8" height="16.3" rx="0.6" fill="#2eb39e"/>
<rect x="948.87" y="259.5" width="1.7" height="20.3" fill="#3f998c"/>
<rect x="946.82" y="263.1" width="5.8" height="4.6" rx="0.6" fill="#2eb39e"/>
<rect x="958.26" y="259.4" width="1.7" height="23.9" fill="#cf675f"/>
<rect x="956.21" y="263.3" width="5.8" height="16.1" rx="0.6" fill="#f05a50"/>
<rect x="966.61" y="265.0" width="1.7" height="37.0" fill="#cf675f"/>
<rect x="964.56" y="278.1" width="5.8" height="8.5" rx="0.6" fill="#f05a50"/>
<rect x="976.00" y="285.4" width="1.7" height="20.6" fill="#cf675f"/>
<rect x="973.95" y="286.0" width="5.8" height="17.5" rx="0.6" fill="#f05a50"/>
<rect x="985.39" y="296.3" width="1.7" height="63.9" fill="#cf675f"/>
<rect x="983.34" y="300.9" width="5.8" height="55.8" rx="0.6" fill="#f05a50"/>
<rect x="993.74" y="337.5" width="1.7" height="36.1" fill="#3f998c"/>
<rect x="991.69" y="350.3" width="5.8" height="6.8" rx="0.6" fill="#2eb39e"/>
<rect x="1003.13" y="320.0" width="1.7" height="39.8" fill="#3f998c"/>
<rect x="1001.08" y="327.2" width="5.8" height="24.1" rx="0.6" fill="#2eb39e"/>
<rect x="1011.48" y="316.9" width="1.7" height="65.7" fill="#cf675f"/>
<rect x="1009.43" y="326.8" width="5.8" height="52.9" rx="0.6" fill="#f05a50"/>
<rect x="1020.87" y="360.2" width="1.7" height="49.1" fill="#3f998c"/>
<rect x="1018.82" y="365.7" width="5.8" height="14.0" rx="0.6" fill="#2eb39e"/>
<rect x="1029.21" y="357.1" width="1.7" height="34.8" fill="#cf675f"/>
<rect x="1027.16" y="365.7" width="5.8" height="20.2" rx="0.6" fill="#f05a50"/>
<rect x="1038.61" y="354.0" width="1.7" height="53.3" fill="#cf675f"/>
<rect x="1036.56" y="383.4" width="5.8" height="18.2" rx="0.6" fill="#f05a50"/>
<rect x="1048.00" y="388.0" width="1.7" height="103.3" fill="#cf675f"/>
<rect x="1045.95" y="400.4" width="5.8" height="56.3" rx="0.6" fill="#f05a50"/>
<rect x="1056.34" y="428.2" width="1.7" height="47.2" fill="#cf675f"/>
<rect x="1054.29" y="455.3" width="5.8" height="1.4" rx="0.6" fill="#f05a50"/>
<rect x="1065.74" y="429.4" width="1.7" height="37.3" fill="#3f998c"/>
<rect x="1063.69" y="435.8" width="5.8" height="21.5" rx="0.6" fill="#2eb39e"/>
<rect x="1074.08" y="426.0" width="1.7" height="39.7" fill="#3f998c"/>
<rect x="1072.03" y="426.4" width="5.8" height="9.4" rx="0.6" fill="#2eb39e"/>
<rect x="1083.47" y="426.0" width="1.7" height="53.6" fill="#cf675f"/>
<rect x="1081.42" y="426.5" width="5.8" height="7.9" rx="0.6" fill="#f05a50"/>
<rect x="1091.82" y="418.2" width="1.7" height="21.2" fill="#3f998c"/>
<rect x="1089.77" y="426.5" width="5.8" height="8.2" rx="0.6" fill="#2eb39e"/>
<rect x="1101.21" y="415.2" width="1.7" height="56.3" fill="#cf675f"/>
<rect x="1099.16" y="426.9" width="5.8" height="44.0" rx="0.6" fill="#f05a50"/>
</g>
<ellipse cx="33" cy="9.8" rx="3" ry="0.8" fill="#3a8f96" opacity="0.3"/>
<ellipse cx="135.8" cy="10.2" rx="3" ry="0.8" fill="#6a7086" opacity="0.3"/>
<ellipse cx="39" cy="37" rx="3" ry="0.8" fill="#2f7f86" opacity="0.3"/>
<ellipse cx="164" cy="42" rx="3" ry="0.8" fill="#50566c" opacity="0.3"/>
<rect x="0" y="752.8" width="1214.5" height="1.1" fill="#c9cbd2"/>
<rect x="38.0" y="753" width="1.4" height="9.7" fill="#c9cbd2"/>
<rect x="179.9" y="753" width="1.4" height="9.7" fill="#c9cbd2"/>
<rect x="269.8" y="753" width="1.4" height="9.7" fill="#c9cbd2"/>
<rect x="412.6" y="753" width="1.4" height="9.7" fill="#c9cbd2"/>
<rect x="502.7" y="753" width="1.4" height="9.7" fill="#c9cbd2"/>
<rect x="645.6" y="753" width="1.4" height="9.7" fill="#c9cbd2"/>
<rect x="735.2" y="753" width="1.4" height="9.7" fill="#c9cbd2"/>
<rect x="878.5" y="753" width="1.4" height="9.7" fill="#c9cbd2"/>
<rect x="967.3" y="753" width="1.4" height="9.7" fill="#c9cbd2"/>
<rect x="1109.6" y="753" width="1.4" height="9.7" fill="#c9cbd2"/>
<rect x="1199.9" y="753" width="1.4" height="9.7" fill="#c9cbd2"/>
<text x="39.3" y="773" font-size="12" fill="#9a9da8" text-anchor="middle" letter-spacing="0.2">12:00</text>
<text x="182.2" y="773" font-size="12" fill="#9a9da8" text-anchor="middle" letter-spacing="0.2">18. May</text>
<text x="271.5" y="773" font-size="12" fill="#9a9da8" text-anchor="middle" letter-spacing="0.2">12:00</text>
<text x="414.7" y="773" font-size="12" fill="#9a9da8" text-anchor="middle" letter-spacing="0.2">19. May</text>
<text x="504" y="773" font-size="12" fill="#9a9da8" text-anchor="middle" letter-spacing="0.2">12:00</text>
<text x="647.5" y="773" font-size="12" fill="#9a9da8" text-anchor="middle" letter-spacing="0.2">22. May</text>
<text x="736.3" y="773" font-size="12" fill="#9a9da8" text-anchor="middle" letter-spacing="0.2">12:00</text>
<text x="879.4" y="773" font-size="12" fill="#9a9da8" text-anchor="middle" letter-spacing="0.2">23. May</text>
<text x="968.3" y="773" font-size="12" fill="#9a9da8" text-anchor="middle" letter-spacing="0.2">12:00</text>
<text x="1112.3" y="773" font-size="12" fill="#9a9da8" text-anchor="middle" letter-spacing="0.2">24. May</text>
<text x="1214.5" y="773" font-size="12" fill="#9a9da8" text-anchor="end" letter-spacing="0.45">12:00</text>
<text x="1214.5" y="749.5" font-size="10.5" fill="#b4b7c0" text-anchor="end">Your local time zone</text>
<text x="1219.6" y="98.9" font-size="11.8" fill="#9a9da8" text-anchor="end" letter-spacing="0.6">421.00</text>
<text x="1219.6" y="152.0" font-size="11.8" fill="#9a9da8" text-anchor="end" letter-spacing="0.6">420.00</text>
<text x="1219.6" y="205.2" font-size="11.8" fill="#9a9da8" text-anchor="end" letter-spacing="0.6">419.00</text>
<text x="1219.6" y="258.4" font-size="11.8" fill="#9a9da8" text-anchor="end" letter-spacing="0.6">418.00</text>
<text x="1219.6" y="311.5" font-size="11.8" fill="#9a9da8" text-anchor="end" letter-spacing="0.6">417.00</text>
<text x="1219.6" y="364.7" font-size="11.8" fill="#9a9da8" text-anchor="end" letter-spacing="0.6">416.00</text>
<text x="1219.6" y="417.8" font-size="11.8" fill="#9a9da8" text-anchor="end" letter-spacing="0.6">415.00</text>
<text x="1219.6" y="524.1" font-size="11.8" fill="#9a9da8" text-anchor="end" letter-spacing="0.6">413.00</text>
<text x="1219.6" y="577.2" font-size="11.8" fill="#9a9da8" text-anchor="end" letter-spacing="0.6">412.00</text>
<text x="1219.6" y="630.4" font-size="11.8" fill="#9a9da8" text-anchor="end" letter-spacing="0.6">411.00</text>
<text x="1219.6" y="683.5" font-size="11.8" fill="#9a9da8" text-anchor="end" letter-spacing="0.6">410.00</text>
<text x="1219.6" y="736.7" font-size="11.8" fill="#9a9da8" text-anchor="end" letter-spacing="0.6">409.00</text>
</g>
<rect x="1173" y="458" width="52.3" height="20.8" fill="#e95252"/>
<text x="1218.3" y="472.8" font-size="11.5" font-weight="bold" fill="#ffffff" text-anchor="end" letter-spacing="0.75">414.09</text>
</svg></body></html>
